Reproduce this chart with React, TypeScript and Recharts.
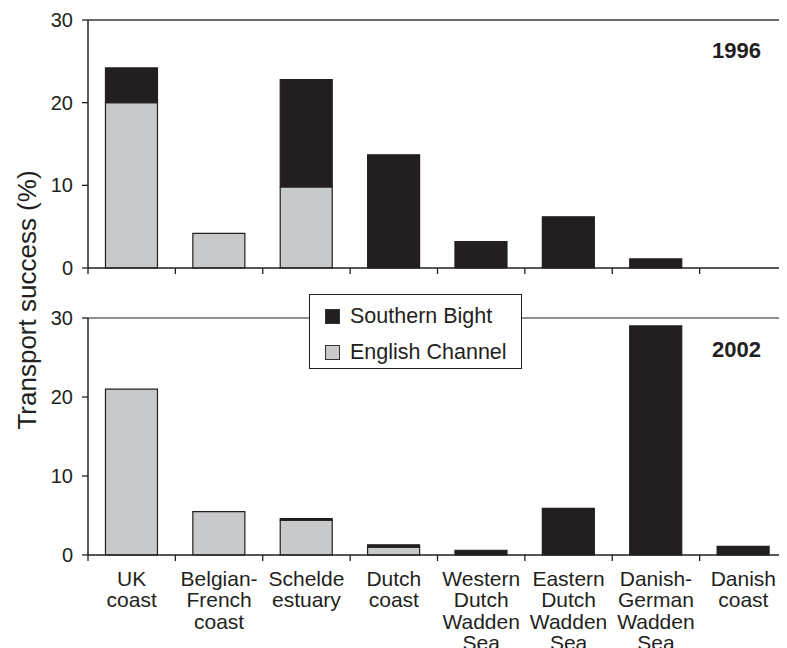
import React from 'react';
import { BarChart, Bar, XAxis, YAxis, ReferenceLine, Legend } from 'recharts';

const categories = [
  'UK coast',
  'Belgian-French coast',
  'Schelde estuary',
  'Dutch coast',
  'Western Dutch Wadden Sea',
  'Eastern Dutch Wadden Sea',
  'Danish-German Wadden Sea',
  'Danish coast',
];
const categoryLines = [
  ['UK', 'coast'],
  ['Belgian-', 'French', 'coast'],
  ['Schelde', 'estuary'],
  ['Dutch', 'coast'],
  ['Western', 'Dutch', 'Wadden', 'Sea'],
  ['Eastern', 'Dutch', 'Wadden', 'Sea'],
  ['Danish-', 'German', 'Wadden', 'Sea'],
  ['Danish', 'coast'],
];

const english1996 = [20, 4.2, 9.8, 0, 0, 0, 0, 0];
const southern1996 = [4.2, 0, 13, 13.7, 3.2, 6.2, 1.1, 0];
const english2002 = [21, 5.5, 4.4, 1.0, 0, 0, 0, 0];
const southern2002 = [0, 0, 0.2, 0.3, 0.6, 5.9, 29.0, 1.1];

const yTicks = [0, 10, 20, 30];

const data1996 = categories.map((name, i) => ({ name, english: english1996[i], southern: southern1996[i] }));
const data2002 = categories.map((name, i) => ({ name, english: english2002[i], southern: southern2002[i] }));

const W = 787;
const PLOT_LEFT = 88;
const BAND = (W - PLOT_LEFT) / categories.length;
const FONT = '"Liberation Sans", Arial, Helvetica, sans-serif';
const INK = '#231f20';
const GREY = '#c8c9cb';

const BoundaryTick = (props: any) => {
  const { x, y, index, showLabel } = props;
  const left = x - BAND / 2;
  const lines = categoryLines[index] || [];
  return (
    <g>
      <line x1={left} y1={y} x2={left} y2={y + 6} stroke={INK} strokeWidth={1.3} />
      {index === categories.length - 1 && (
        <line x1={x + BAND / 2 - 1} y1={y} x2={x + BAND / 2 - 1} y2={y + 6} stroke={INK} strokeWidth={1.3} />
      )}
      {showLabel && (
        <text x={x} y={y + 31} textAnchor="middle" fontSize={21} fill={INK} fontFamily={FONT}>
          {lines.map((l, i) => (
            <tspan key={i} x={x} dy={i === 0 ? 0 : 21.3}>
              {l}
            </tspan>
          ))}
        </text>
      )}
    </g>
  );
};

const LegendBox = (props: any) => {
  const items = (props.payload || []).slice().reverse();
  return (
    <div
      style={{
        width: 211,
        height: 73,
        border: `1.5px solid ${INK}`,
        background: '#fff',
        fontFamily: FONT,
        fontSize: 21.5,
        color: INK,
        boxSizing: 'content-box',
      }}
    >
      {items.map((it: any, i: number) => (
        <div key={i} style={{ display: 'flex', alignItems: 'center', position: 'absolute', left: 16, top: 11 + i * 36 }}>
          <div style={{ width: 13, height: 13, background: it.color, border: '1px solid #333', marginRight: 10 }} />
          <span style={{ lineHeight: '22px' }}>{it.value}</span>
        </div>
      ))}
    </div>
  );
};

const Panel = ({ data, height, top, bottomAxis, topLine, withLegend }: any) => (
  <BarChart
    width={W}
    height={height}
    data={data}
    margin={{ top, right: 0, bottom: 0, left: 28 }}
    barCategoryGap="20%"
  >
    <XAxis
      dataKey="name"
      interval={0}
      height={bottomAxis}
      tickSize={0}
      tickMargin={0}
      tickLine={false}
      axisLine={{ stroke: INK, strokeWidth: 1.5 }}
      tick={<BoundaryTick showLabel={withLegend} />}
    />
    <YAxis
      domain={[0, 30]}
      ticks={yTicks}
      width={60}
      tickSize={6}
      tickMargin={9}
      axisLine={{ stroke: INK, strokeWidth: 1.5 }}
      tickLine={{ stroke: INK, strokeWidth: 1.3 }}
      tick={{ fontSize: 20, fill: INK, fontFamily: FONT }}
    />
    <ReferenceLine y={30} stroke={topLine.color} strokeWidth={topLine.width} />
    <Bar dataKey="english" name="English Channel" stackId="a" fill={GREY} stroke={INK} strokeWidth={1.2} isAnimationActive={false} />
    <Bar dataKey="southern" name="Southern Bight" stackId="a" fill={INK} stroke={INK} strokeWidth={1.2} isAnimationActive={false} />
    {withLegend && (
      <Legend
        layout="horizontal"
        verticalAlign="middle"
        align="center"
        content={<LegendBox />}
        wrapperStyle={{ position: 'absolute', left: 309, top: 4, width: 214, height: 76 }}
      />
    )}
  </BarChart>
);

export default function App() {
  return (
    <div style={{ position: 'relative', width: W, height: 648, marginLeft: -8, marginTop: -8, background: '#fff' }}>
      <div style={{ position: 'absolute', left: 0, top: 0 }}>
        <Panel data={data1996} height={290} top={20} bottomAxis={22} topLine={{ color: '#6b6b6b', width: 2 }} withLegend={false} />
      </div>
      <div style={{ position: 'absolute', left: 0, top: 290 }}>
        <Panel data={data2002} height={358} top={28} bottomAxis={93} topLine={{ color: INK, width: 1.2 }} withLegend />
      </div>
      <svg width={W} height={648} style={{ position: 'absolute', left: 0, top: 0, pointerEvents: 'none' }}>
        <text
          transform="translate(27,300) rotate(-90)"
          textAnchor="middle"
          dominantBaseline="central"
          fontSize={26}
          fill={INK}
          fontFamily={FONT}
        >
          Transport success (%)
        </text>
        <text x={761} y={58} textAnchor="end" fontSize={22} fontWeight="bold" fill={INK} fontFamily={FONT}>
          1996
        </text>
        <text x={761} y={357} textAnchor="end" fontSize={22} fontWeight="bold" fill={INK} fontFamily={FONT}>
          2002
        </text>
      </svg>
    </div>
  );
}
